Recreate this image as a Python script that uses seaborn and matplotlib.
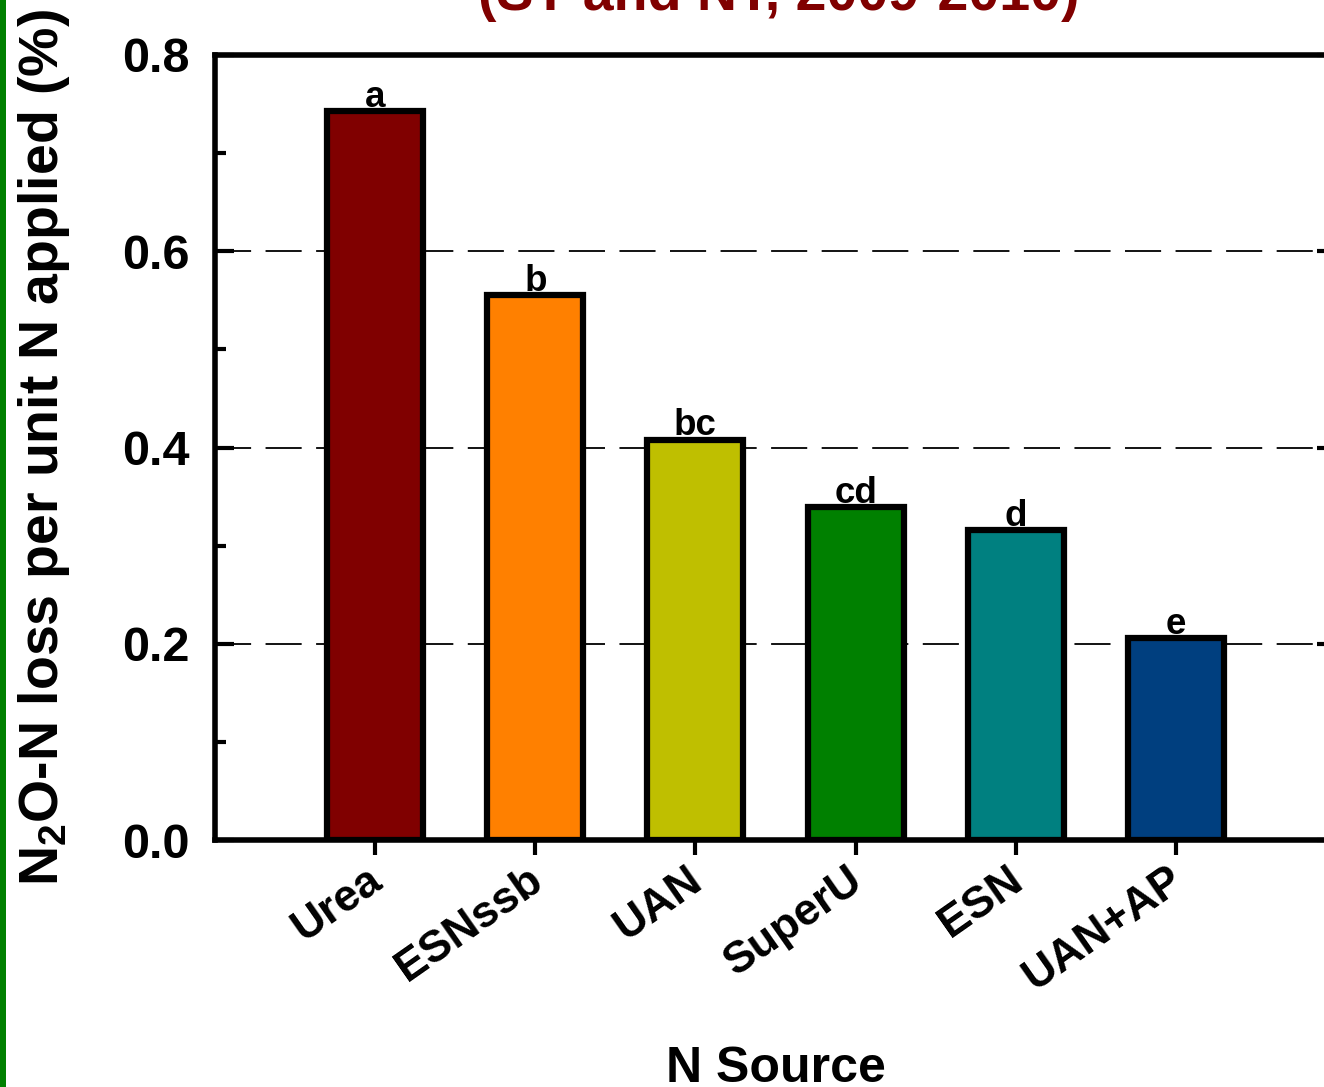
import matplotlib
matplotlib.use('Agg')
import matplotlib.pyplot as plt
import matplotlib.transforms as mtransforms
from matplotlib.patches import Rectangle
from matplotlib.ticker import MultipleLocator
import pandas as pd
import seaborn as sns

# data
sources = ['Urea', 'ESNssb', 'UAN', 'SuperU', 'ESN', 'UAN+AP']
n2o_loss = [0.743, 0.555, 0.408, 0.339, 0.316, 0.206]
letters = ['a', 'b', 'bc', 'cd', 'd', 'e']
bar_colors = ['#800000', '#FF8000', '#BFBF00', '#008000', '#008080', '#003F7F']

df = pd.DataFrame({'source': sources, 'loss': n2o_loss})

sns.set_style('ticks')
plt.rcParams['font.family'] = ['Liberation Sans', 'DejaVu Sans']
plt.rcParams['font.weight'] = 'bold'
plt.rcParams['text.color'] = 'black'
plt.rcParams['axes.labelcolor'] = 'black'
plt.rcParams['xtick.color'] = 'black'
plt.rcParams['ytick.color'] = 'black'
plt.rcParams['mathtext.fontset'] = 'custom'
plt.rcParams['mathtext.rm'] = 'Liberation Sans:bold'
plt.rcParams['mathtext.it'] = 'Liberation Sans:bold'
plt.rcParams['mathtext.bf'] = 'Liberation Sans:bold'

fig = plt.figure(figsize=(13.24, 10.87), dpi=100)
ax = fig.add_axes([215 / 1324, 1 - 840 / 1087, 1121 / 1324, 785 / 1087])

sns.barplot(data=df, x='source', y='loss', hue='source', palette=bar_colors,
            saturation=1, width=0.6, edgecolor='black', linewidth=4.5,
            legend=False, ax=ax, zorder=2)

# significance letters
for i, (v, lt) in enumerate(zip(n2o_loss, letters)):
    ax.annotate(lt, (i, v), xytext=(0, 3), textcoords='offset points',
                ha='center', va='baseline', fontsize=26.5, fontweight='bold',
                color='black')

ax.set_xlim(-1, 6)
ax.set_ylim(0, 0.8)
ax.yaxis.set_major_locator(MultipleLocator(0.2))
ax.yaxis.set_minor_locator(MultipleLocator(0.1))
ax.set_yticks([0, 0.2, 0.4, 0.6, 0.8])
ax.set_yticklabels(['0.0', '0.2', '0.4', '0.6', '0.8'])

ax.grid(axis='y', which='major', color='black', linestyle=(0, (20, 8)), linewidth=1.3)
ax.set_axisbelow(True)

for s in ax.spines.values():
    s.set_linewidth(4)
    s.set_color('black')
    s.set_visible(True)

ax.tick_params(axis='y', which='major', direction='in', left=True, right=True,
               length=14, width=3, labelsize=35, pad=18)
ax.tick_params(axis='y', which='minor', direction='in', left=True, right=True,
               length=8, width=3)
ax.tick_params(axis='x', which='major', direction='out', length=11, width=3,
               labelsize=32, pad=3)

for lab in ax.get_xticklabels():
    lab.set_rotation(35)
    lab.set_ha('right')
    lab.set_va('top')
    lab.set_rotation_mode('anchor')
    lab.set_fontweight('bold')
    lab.set_transform(lab.get_transform() +
                      mtransforms.ScaledTranslation(-9 / 100, 0, fig.dpi_scale_trans))
for lab in ax.get_yticklabels():
    lab.set_fontweight('bold')

ax.set_xlabel('N Source', fontsize=36, fontweight='bold')
ax.xaxis.set_label_coords(0.5, -0.2625)
ax.set_ylabel(r'N$_2$O-N loss per unit N applied (%)', fontsize=40, fontweight='bold')
ax.yaxis.set_label_coords(-0.1276, 0.5)

# title, mostly cropped at the top of the picture
fig.text(779 / 1324, 1 - 10 / 1087, '(ST and NT, 2009-2010)', color='#800000',
         fontsize=40, fontweight='bold', ha='center', va='baseline')

# green frame line on the left edge
fig.patches.append(Rectangle((0, 0), 6 / 1324, 1, transform=fig.transFigure,
                             facecolor='#008000', edgecolor='none'))

fig.savefig('out.png', dpi=100)
